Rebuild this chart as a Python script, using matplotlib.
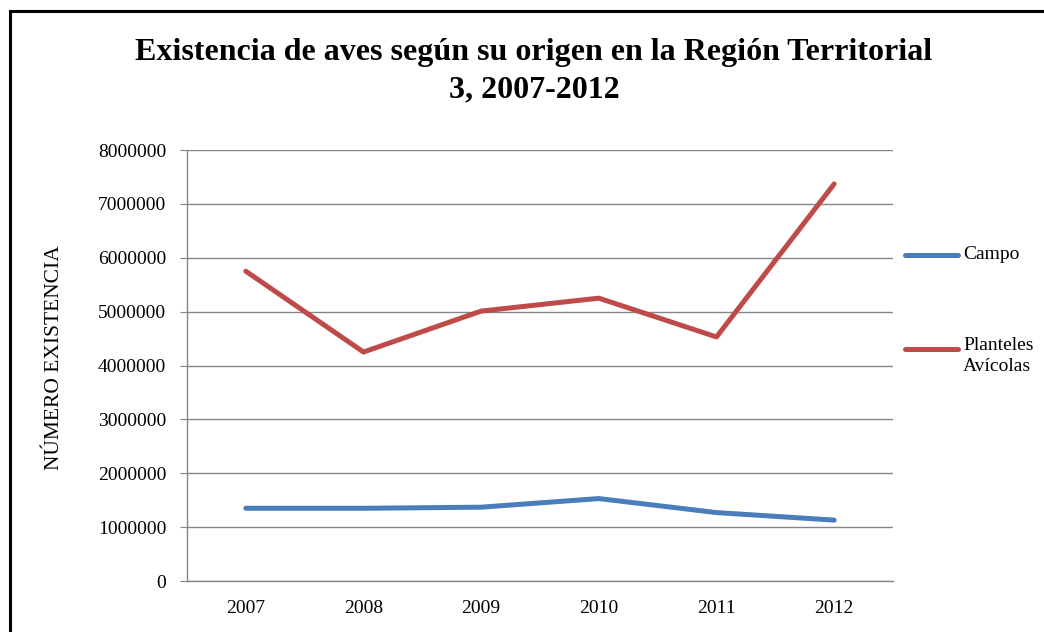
import numpy as np
import matplotlib
matplotlib.use('Agg')
import matplotlib.pyplot as plt
from matplotlib.lines import Line2D
from matplotlib.patches import Rectangle

plt.rcParams['font.family'] = ['Liberation Serif', 'DejaVu Serif']

years = ['2007', '2008', '2009', '2010', '2011', '2012']
campo = [1350000, 1350000, 1370000, 1530000, 1270000, 1130000]
planteles = [5750000, 4250000, 5010000, 5250000, 4530000, 7370000]
series_names = ['Campo', 'Planteles\nAvícolas']
colors = ['#4A7EBB', '#BE4B48']

fig = plt.figure(figsize=(10.44, 6.32), dpi=100)
ax = fig.add_axes([187/1044, 1 - 581/632, 706/1044, 431/632])

x = np.arange(len(years))
ax.plot(x, campo, color=colors[0], lw=3.6, solid_capstyle='round')
ax.plot(x, planteles, color=colors[1], lw=3.6, solid_capstyle='round')

ax.set_xlim(-0.5, len(years) - 0.5)
ax.set_ylim(0, 8000000)
ax.set_yticks(np.arange(0, 8000001, 1000000))
ax.set_yticklabels(['%d' % v for v in np.arange(0, 8000001, 1000000)], fontsize=14)
ax.set_xticks(x)
ax.set_xticklabels(years, fontsize=14)
ax.tick_params(axis='x', length=0, pad=14)
ax.tick_params(axis='y', length=5, color='#868686', pad=10)
ax.yaxis.grid(True, color='#868686', lw=1)
ax.set_axisbelow(True)
for s in ['top', 'right']:
    ax.spines[s].set_visible(False)
for s in ['left', 'bottom']:
    ax.spines[s].set_color('#868686')
    ax.spines[s].set_linewidth(1)

fig.text(55/1044, 1 - 358/632, 'NÚMERO EXISTENCIA', rotation=90,
         ha='center', va='center', fontsize=15.5)

fig.text(534/1044, 1 - 71/632,
         'Existencia de aves según su origen en la Región Territorial\n3, 2007-2012',
         ha='center', va='center', fontsize=23, fontweight='bold', linespacing=1.4)

# legend drawn by hand to match layout
leg_y = [255, 349]
for name, c, yy in zip(series_names, colors, leg_y):
    fy = 1 - yy / 632
    fig.add_artist(Line2D([905/1044, 958/1044], [fy, fy], color=c, lw=3.6,
                          solid_capstyle='round', transform=fig.transFigure))
    if '\n' in name:
        fig.text(963/1044, fy + 12/632, name, ha='left', va='top', fontsize=14,
                 linespacing=1.3)
    else:
        fig.text(963/1044, fy, name, ha='left', va='center', fontsize=14)

# outer frame
fig.add_artist(Rectangle((10/1044, -0.05), 1.1, 1 - 11/632 + 0.05, fill=False,
                         edgecolor='black', lw=2.2, transform=fig.transFigure))

fig.savefig('out.png', dpi=100)
